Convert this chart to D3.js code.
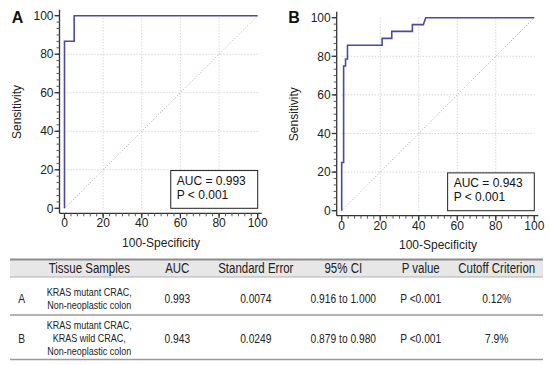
<!DOCTYPE html>
<html>
<head>
<meta charset="utf-8">
<script src="https://cdn.jsdelivr.net/npm/d3@7"></script>
<style>
  body { margin: 0; background: #fff; }
  svg { display: block; }
</style>
</head>
<body>
<svg width="550" height="365"></svg>
<script>
// ROC curve A (100-Specificity, Sensitivity)
var rocA_fpr  = [0, 0, 5, 5, 100];
var rocA_sens = [0, 86.7, 86.7, 100, 100];

// ROC curve B
var rocB_fpr  = [0, 0, 1, 1, 2, 2, 3, 3, 21, 21, 26, 26, 36.7, 36.7, 42.4, 43.6, 100];
var rocB_sens = [0, 25, 25, 75, 75, 78.6, 78.6, 85.7, 85.7, 89.3, 89.3, 92.9, 92.9, 96.4, 96.4, 100, 100];

var panelLetters = ["A", "B"];
var aucLabels = ["AUC = 0.993", "AUC = 0.943"];
var pLabels = ["P < 0.001", "P < 0.001"];
var majorTicks = [0, 20, 40, 60, 80, 100];

// table
var tableHeader = ["", "Tissue Samples", "AUC", "Standard Error", "95% CI", "P value", "Cutoff Criterion"];
var rowIds = ["A", "B"];
var tissueSamples = [
    ["KRAS mutant CRAC,", "Non-neoplastic colon"],
    ["KRAS mutant CRAC,", "KRAS wild CRAC,", "Non-neoplastic colon"]
];
var aucValues = ["0.993", "0.943"];
var stdErrors = ["0.0074", "0.0249"];
var ciValues = ["0.916 to 1.000", "0.879 to 0.980"];
var pValues = ["P <0.001", "P <0.001"];
var cutoffs = ["0.12%", "7.9%"];

function main() {
    var svg = d3.select("svg");
    svg.append("rect").attr("width", 550).attr("height", 365).attr("fill", "#fff");

    var panels = [
        {x0: 64.5, x1: 257.7, y0: 208.3, y1: 15.7, letterX: 17.5, fpr: rocA_fpr, sens: rocA_sens},
        {x0: 341.7, x1: 534.3, y0: 210.7, y1: 17.7, letterX: 294, fpr: rocB_fpr, sens: rocB_sens}
    ];

    panels.forEach(function(p, i) {
        var x = d3.scaleLinear().domain([0, 100]).range([p.x0, p.x1]);
        var y = d3.scaleLinear().domain([0, 100]).range([p.y0, p.y1]);
        var gap = 5;
        var axisX = p.x0 - gap, axisY = p.y0 + gap;
        var g = svg.append("g");

        // grid
        var grid = [20, 40, 60, 80];
        g.selectAll(".gx").data(grid).enter().append("line")
            .attr("x1", d => x(d)).attr("x2", d => x(d))
            .attr("y1", y(0)).attr("y2", y(100))
            .attr("stroke", "#c4c4c4").attr("stroke-width", 1).attr("stroke-dasharray", "1,2");
        g.selectAll(".gy").data(grid).enter().append("line")
            .attr("y1", d => y(d)).attr("y2", d => y(d))
            .attr("x1", x(0)).attr("x2", x(100))
            .attr("stroke", "#c4c4c4").attr("stroke-width", 1).attr("stroke-dasharray", "1,2");

        // diagonal reference
        g.append("line")
            .attr("x1", x(0)).attr("y1", y(0)).attr("x2", x(100)).attr("y2", y(100))
            .attr("stroke", "#b8a2b4").attr("stroke-width", 1).attr("stroke-dasharray", "1,2");

        // axes (offset from the data area)
        var minor = d3.range(0, 100.01, 20 / 6);
        var xAxis = g.append("g").attr("transform", "translate(0," + axisY + ")");
        xAxis.append("line").attr("x1", axisX).attr("x2", x(100) + 4)
            .attr("stroke", "#333").attr("stroke-width", 1.3);
        xAxis.selectAll(".mn").data(minor).enter().append("line")
            .attr("x1", d => x(d)).attr("x2", d => x(d)).attr("y1", 0).attr("y2", 3)
            .attr("stroke", "#555").attr("stroke-width", 1);
        xAxis.selectAll(".mj").data(majorTicks).enter().append("line")
            .attr("x1", d => x(d)).attr("x2", d => x(d)).attr("y1", 0).attr("y2", 5)
            .attr("stroke", "#333").attr("stroke-width", 1.3);
        xAxis.selectAll("text").data(majorTicks).enter().append("text")
            .attr("x", d => x(d)).attr("y", 14)
            .attr("text-anchor", "middle")
            .attr("font-family", "Liberation Sans, Arial, sans-serif").attr("font-size", "12px")
            .attr("fill", "#222").text(d => d);

        var yAxis = g.append("g").attr("transform", "translate(" + axisX + ",0)");
        yAxis.append("line").attr("y1", axisY).attr("y2", y(100) - 6)
            .attr("stroke", "#333").attr("stroke-width", 1.3);
        yAxis.selectAll(".mn").data(minor).enter().append("line")
            .attr("y1", d => y(d)).attr("y2", d => y(d)).attr("x1", 0).attr("x2", -3)
            .attr("stroke", "#555").attr("stroke-width", 1);
        yAxis.selectAll(".mj").data(majorTicks).enter().append("line")
            .attr("y1", d => y(d)).attr("y2", d => y(d)).attr("x1", 0).attr("x2", -5)
            .attr("stroke", "#333").attr("stroke-width", 1.3);
        yAxis.selectAll("text").data(majorTicks).enter().append("text")
            .attr("x", -6).attr("y", d => y(d)).attr("dy", "0.35em")
            .attr("text-anchor", "end")
            .attr("font-family", "Liberation Sans, Arial, sans-serif").attr("font-size", "12px")
            .attr("fill", "#222").text(d => d);

        // axis titles
        g.append("text")
            .attr("transform", "translate(" + (axisX - 38.5) + "," + ((p.y0 + p.y1) / 2) + ") rotate(-90)")
            .attr("text-anchor", "middle")
            .attr("font-family", "Liberation Sans, Arial, sans-serif").attr("font-size", "12px")
            .attr("fill", "#222").text("Sensitivity");
        g.append("text")
            .attr("x", (p.x0 + p.x1) / 2).attr("y", axisY + 33.5)
            .attr("text-anchor", "middle")
            .attr("font-family", "Liberation Sans, Arial, sans-serif").attr("font-size", "12px")
            .attr("fill", "#222").text("100-Specificity");

        // ROC curve
        var pts = p.fpr.map(function(f, k) { return [f, p.sens[k]]; });
        g.append("path")
            .attr("d", d3.line().x(d => x(d[0])).y(d => y(d[1]))(pts))
            .attr("fill", "none").attr("stroke", "#4b4b9c").attr("stroke-width", 1.6);

        // AUC box
        var bx = x(55), by = y(19.6);
        g.append("rect")
            .attr("x", bx).attr("y", by)
            .attr("width", x(100) - bx).attr("height", y(0) - by)
            .attr("fill", "#fff").attr("stroke", "#222").attr("stroke-width", 1);
        g.append("text").attr("x", bx + 6).attr("y", by + 14.5)
            .attr("font-family", "Liberation Sans, Arial, sans-serif").attr("font-size", "12px")
            .attr("fill", "#111").text(aucLabels[i]);
        g.append("text").attr("x", bx + 6).attr("y", by + 28.5)
            .attr("font-family", "Liberation Sans, Arial, sans-serif").attr("font-size", "12px")
            .attr("fill", "#111").text(pLabels[i]);

        // panel letter
        g.append("text").attr("x", p.letterX).attr("y", 23)
            .attr("text-anchor", "middle")
            .attr("font-family", "Liberation Sans, Arial, sans-serif").attr("font-size", "16px")
            .attr("font-weight", "bold").attr("fill", "#111").text(panelLetters[i]);
    });

    // ---- table ----
    var colX = [21.7, 89.3, 177.3, 255.8, 343.3, 420.7, 496.7];
    var t = svg.append("g");
    var left = 10, right = 543;

    // condensed text (narrow look of the original table)
    function ntext(x, y, size, str) {
        t.append("text")
            .attr("transform", "translate(" + x + "," + y + ") scale(0.82,1)")
            .attr("text-anchor", "middle")
            .attr("font-family", "Liberation Sans, Arial, sans-serif")
            .attr("font-size", size + "px")
            .attr("fill", "#222").text(str);
    }

    t.append("rect").attr("x", left).attr("y", 260).attr("width", right - left).attr("height", 17)
        .attr("fill", "#e7e7e7");
    t.append("line").attr("x1", left).attr("x2", right).attr("y1", 259.5).attr("y2", 259.5)
        .attr("stroke", "#8c8c8c").attr("stroke-width", 2);
    t.append("line").attr("x1", left).attr("x2", right).attr("y1", 277).attr("y2", 277)
        .attr("stroke", "#b0b0b0").attr("stroke-width", 1);
    t.append("line").attr("x1", left).attr("x2", right).attr("y1", 315).attr("y2", 315)
        .attr("stroke", "#9a9a9a").attr("stroke-width", 1.5);
    t.append("line").attr("x1", left).attr("x2", right).attr("y1", 359.5).attr("y2", 359.5)
        .attr("stroke", "#9a9a9a").attr("stroke-width", 1.5);

    tableHeader.forEach(function(h, k) {
        if (h) ntext(colX[k], 273.2, 14, h);
    });

    var rowMid = [298.3, 338.3];
    rowIds.forEach(function(id, r) {
        var cells = [id, null, aucValues[r], stdErrors[r], ciValues[r], pValues[r], cutoffs[r]];
        cells.forEach(function(c, k) {
            if (c === null) return;
            ntext(colX[k], rowMid[r] + 4.3, 12.5, c);
        });
        var lines = tissueSamples[r];
        var lh = 13;
        lines.forEach(function(s, j) {
            ntext(colX[1], rowMid[r] + (j - (lines.length - 1) / 2) * lh + 4, 11, s);
        });
    });
}
main();
</script>
</body>
</html>
